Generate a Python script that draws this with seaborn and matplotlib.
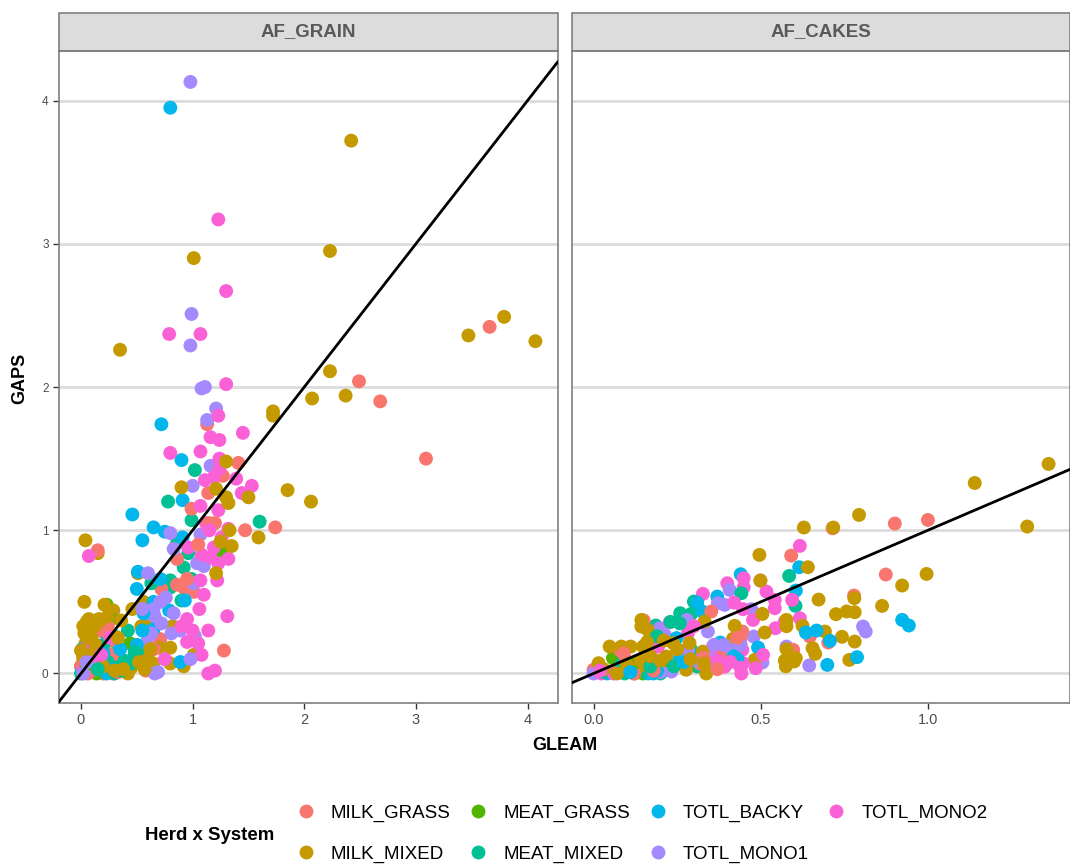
import matplotlib
matplotlib.use("Agg")
import matplotlib.pyplot as plt
from matplotlib.patches import Rectangle
import pandas as pd
import seaborn as sns

panels = ["AF_GRAIN", "AF_CAKES"]
herds = ["MILK_GRASS", "MILK_MIXED", "MEAT_GRASS", "MEAT_MIXED", "TOTL_BACKY", "TOTL_MONO1", "TOTL_MONO2"]
colors = ["#F8766D", "#C49A00", "#53B400", "#00C094", "#00B6EB", "#A58AFF", "#FB61D7"]

grain_milk_grass = [(3.66,2.42),(2.49,2.04),(2.68,1.90),(3.09,1.50),(1.13,1.74),(1.41,1.47),(1.27,1.38),(1.14,1.26),
    (0.99,1.15),(1.20,1.05),(1.47,1.0),(1.74,1.02),(0.86,0.80),(0.92,0.60),(1.01,0.57),(0.72,0.59),(1.28,0.16),
    (0.71,0.24),(0.58,0.02),(0.15,0.86),(0.21,0.35),(0.26,0.23),(0.02,0.10),(0.0,0.05),(0.2,0.0),(0.29,0.0),
    (0.05,0.12),(0.18,0.30),(0.10,0.02),(0.22,0.06),(0.03,0.03),(0.07,0.07),(0.03,0.17),(0.13,0.10),(0.16,0.17),
    (0.24,0.33),(0.2,0.17),(0.28,0.13),(0.06,0.0),(0.14,0.06),(0.33,0.01),(0.65,0.17),(0.86,0.62),(0.95,0.66),
    (1.05,0.9),(1.15,1.05)]
grain_milk_mixed = [(2.42,3.72),(2.23,2.95),(1.01,2.90),(3.47,2.36),(3.79,2.49),(4.07,2.32),(0.35,2.26),(2.23,2.11),
    (2.07,1.92),(2.37,1.94),(1.72,1.83),(1.72,1.80),(0.04,0.93),(0.15,0.84),(0.51,0.70),(0.03,0.50),(0.21,0.48),
    (0.29,0.44),(0.46,0.45),(0.56,0.50),(0.07,0.38),(0.16,0.38),(0.02,0.33),(0.08,0.30),(0.04,0.21),(0.10,0.23),
    (0.0,0.05),(0.21,0.07),(0.41,0.01),(0.42,0.0),(0.45,0.04),(0.54,0.33),(0.60,0.36),(0.82,0.33),(0.70,0.18),
    (0.80,0.18),(0.80,0.07),(0.92,0.05),(1.01,0.13),(0.65,0.07),(0.60,0.10),(0.90,1.30),(1.21,1.29),(1.30,1.23),
    (1.32,1.19),(1.50,1.23),(1.85,1.28),(2.06,1.20),(1.59,0.95),(1.35,0.89),(1.25,0.92),(1.33,1.0),(1.21,0.70),
    (1.30,1.48),(0.02,0.12),(0.06,0.17),(0.12,0.33),(0.24,0.40),(0.03,0.28),(0.05,0.36),(0.09,0.25),(0.13,0.20),
    (0.17,0.37),(0.11,0.14),(0.0,0.16),(0.17,0.11),(0.2,0.05),(0.3,0.02),(0.38,0.03),(0.33,0.25),(0.36,0.37),
    (0.52,0.08),(0.57,0.03),(0.62,0.17)]
grain_meat_grass = [(1.27,0.84),(0.23,0.48),(0.44,0.21),(0.27,0.38),(0.14,0.0),(0.19,0.02),(0.05,0.06)]
grain_meat_mixed = [(1.02,1.42),(0.78,1.20),(0.99,1.07),(1.60,1.06),(0.86,0.91),(0.96,0.84),(0.92,0.74),(0.80,0.65),
    (0.80,0.60),(0.99,0.66),(0.90,0.51),(0.63,0.63),(0.42,0.30),(0.20,0.29),(0.23,0.30),(0.30,0.14),(0.39,0.09),
    (0.53,0.14),(0.29,0.07),(0.0,0.0),(0.36,0.10),(0.26,0.05),(0.24,0.12),(0.33,0.04),(0.16,0.09),(0.1,0.1),
    (0.2,0.2),(0.24,0.08),(0.3,0.0),(0.36,0.02),(0.45,0.07),(0.48,0.15),(0.15,0.03)]
grain_totl_backy = [(0.80,3.95),(0.72,1.74),(0.90,1.49),(0.91,1.21),(0.46,1.11),(0.65,1.02),(0.75,0.99),(0.55,0.93),
    (0.91,0.95),(0.51,0.71),(0.50,0.59),(0.71,0.66),(0.65,0.50),(0.93,0.51),(0.79,0.44),(0.65,0.31),(0.60,0.27),
    (0.30,0.26),(0.01,0.17),(0.48,0.10),(0.89,0.08),(0.56,0.42),(0.02,0.01),(0.23,0.0),(0.13,0.03),(0.06,0.03),
    (0.2,0.14),(0.27,0.03),(0.35,0.17),(0.5,0.2),(0.55,0.3)]
grain_totl_mono1 = [(0.98,4.13),(0.99,2.51),(0.98,2.29),(1.08,1.99),(1.11,2.0),(1.21,1.85),(1.13,1.77),(1.16,1.45),
    (1.0,1.31),(1.07,0.97),(0.83,0.87),(0.80,0.98),(1.04,0.77),(1.10,0.75),(1.01,0.63),(0.60,0.70),(0.76,0.53),
    (0.71,0.50),(0.65,0.45),(0.59,0.42),(0.66,0.40),(0.83,0.42),(0.93,0.33),(0.89,0.30),(1.02,0.26),(0.81,0.28),
    (0.59,0.22),(0.66,0.0),(0.69,0.01),(0.98,0.10),(0.02,0.0),(0.05,0.08),(0.63,0.28),(0.55,0.45),(0.72,0.35)]
grain_totl_mono2 = [(1.23,3.17),(1.30,2.67),(0.79,2.37),(1.07,2.37),(1.30,2.02),(0.80,1.54),(1.07,1.55),(1.16,1.65),
    (1.24,1.63),(1.23,1.80),(1.45,1.68),(1.24,1.50),(1.24,1.43),(1.39,1.36),(1.53,1.31),(1.44,1.26),(1.11,1.35),
    (1.19,1.37),(1.07,1.17),(1.23,1.14),(1.32,1.01),(1.26,0.95),(0.96,0.88),(1.08,0.83),(1.19,0.88),(1.16,0.81),
    (1.23,0.77),(1.32,0.80),(1.07,0.65),(1.22,0.65),(1.10,0.55),(1.06,0.45),(1.31,0.40),(0.95,0.38),(1.14,0.30),
    (0.95,0.22),(1.05,0.21),(1.08,0.13),(0.75,0.10),(1.14,0.0),(1.20,0.02),(0.07,0.82),(0.05,0.15),(0.02,0.02),
    (0.26,0.25),(0.12,0.08),(0.18,0.13),(0.9,0.33),(1.0,0.3),(1.12,1.05),(1.15,1.0)]

cakes_milk_grass = [(1.0,1.072),(0.901,1.047),(0.715,1.014),(0.591,0.823),(0.874,0.691),(0.779,0.544),(0.597,0.165),
    (0.702,0.216),(0.647,0.258),(0.445,0.293),(0.439,0.24),(0.352,0.433),(0.15,0.37),(0.392,0.049),(0.347,0.072),
    (0.078,0.165),(0.0,0.026),(0.098,0.09),(0.318,0.07),(0.05,0.01),(0.09,0.14),(0.12,0.0),(0.18,0.02),(0.38,0.11),
    (0.33,0.11),(0.37,0.03),(0.43,0.25)]
cakes_milk_mixed = [(1.361,1.463),(1.14,1.33),(1.297,1.026),(0.996,0.695),(0.923,0.614),(0.863,0.472),(0.794,1.107),
    (0.717,1.019),(0.629,1.019),(0.496,0.828),(0.641,0.742),(0.673,0.516),(0.781,0.428),(0.757,0.433),(0.725,0.414),
    (0.780,0.526),(0.743,0.256),(0.781,0.223),(0.765,0.095),(0.692,0.293),(0.655,0.177),(0.663,0.137),(0.60,0.084),
    (0.572,0.09),(0.605,0.107),(0.575,0.05),(0.577,0.17),(0.625,0.333),(0.577,0.374),(0.577,0.33),(0.512,0.286),
    (0.505,0.416),(0.499,0.649),(0.422,0.333),(0.417,0.242),(0.482,0.095),(0.337,0.0),(0.332,0.363),(0.327,0.153),
    (0.277,0.026),(0.223,0.026),(0.218,0.119),(0.143,0.374),(0.143,0.328),(0.162,0.305),(0.048,0.188),(0.083,0.188),
    (0.111,0.188),(0.015,0.072),(0.123,0.0),(0.168,0.049),(0.133,0.049),(0.238,0.212),(0.287,0.212),(0.148,0.188),
    (0.03,0.03),(0.07,0.0),(0.1,0.06),(0.14,0.09),(0.17,0.12),(0.2,0.09),(0.25,0.17),(0.29,0.1),(0.16,0.22),
    (0.21,0.23),(0.33,0.07)]
cakes_meat_grass = [(0.068,0.119),(0.088,0.05),(0.058,0.107),(0.148,0.0),(0.208,0.026),(0.118,0.07)]
cakes_meat_mixed = [(0.585,0.681),(0.604,0.472),(0.3,0.502),(0.259,0.421),(0.292,0.416),(0.186,0.335),(0.168,0.235),
    (0.442,0.56),(0.31,0.049),(0.173,0.107),(0.078,0.049),(0.093,0.0),(0.068,0.026),(0.258,0.35),(0.292,0.165),
    (0.09,0.09),(0.11,0.03),(0.13,0.07),(0.15,0.02),(0.2,0.0),(0.03,0.01),(0.24,0.05),(0.17,0.05),(0.19,0.26),(0.23,0.36)]
cakes_totl_backy = [(0.44,0.693),(0.615,0.742),(0.605,0.579),(0.37,0.537),(0.31,0.495),(0.325,0.433),(0.923,0.374),
    (0.943,0.335),(0.788,0.114),(0.699,0.06),(0.707,0.228),(0.667,0.3),(0.635,0.286),(0.492,0.181),(0.379,0.216),
    (0.417,0.095),(0.257,0.1),(0.248,0.247),(0.163,0.0),(0.178,0.0),(0.04,0.0),(0.19,0.02),(0.27,0.08),(0.42,0.12),
    (0.43,0.1),(0.11,0.01)]
cakes_totl_mono1 = [(0.577,0.188),(0.806,0.328),(0.814,0.293),(0.645,0.056),(0.505,0.077),(0.479,0.258),(0.472,0.449),
    (0.407,0.584),(0.372,0.491),(0.392,0.479),(0.279,0.374),(0.198,0.316),(0.213,0.27),(0.342,0.293),(0.417,0.165),
    (0.382,0.142),(0.283,0.165),(0.277,0.095),(0.233,0.014),(0.0,0.0),(0.02,0.02),(0.2,0.01),(0.31,0.09),(0.35,0.1),
    (0.39,0.2),(0.44,0.2),(0.36,0.2)]
cakes_totl_mono2 = [(0.617,0.891),(0.327,0.556),(0.40,0.63),(0.449,0.665),(0.449,0.602),(0.499,0.649),(0.517,0.572),
    (0.542,0.514),(0.542,0.456),(0.594,0.514),(0.617,0.386),(0.572,0.363),(0.544,0.316),(0.477,0.374),(0.447,0.449),
    (0.42,0.495),(0.228,0.358),(0.282,0.281),(0.193,0.188),(0.267,0.153),(0.357,0.188),(0.445,0.165),(0.507,0.13),
    (0.447,0.072),(0.442,0.0),(0.485,0.037),(0.392,0.049),(0.023,0.0),(0.367,0.142),(0.06,0.0),(0.02,0.02),(0.3,0.33),
    (0.37,0.09),(0.41,0.08),(0.44,0.04)]

grain_series = [grain_milk_grass, grain_milk_mixed, grain_meat_grass, grain_meat_mixed,
                grain_totl_backy, grain_totl_mono1, grain_totl_mono2]
cakes_series = [cakes_milk_grass, cakes_milk_mixed, cakes_meat_grass, cakes_meat_mixed,
                cakes_totl_backy, cakes_totl_mono1, cakes_totl_mono2]

rows = []
for panel, series in zip(panels, [grain_series, cakes_series]):
    for herd, pts in zip(herds, series):
        for i, (x, y) in enumerate(pts):
            rows.append(dict(panel=panel, herd=herd, GLEAM=x, GAPS=y, order=i / len(pts)))
df = pd.DataFrame(rows).sort_values("order", kind="stable")

plt.rcParams["font.family"] = ["Liberation Sans", "DejaVu Sans"]
g = sns.relplot(data=df, x="GLEAM", y="GAPS", hue="herd", hue_order=herds, palette=colors,
                col="panel", col_order=panels, kind="scatter", s=100, linewidth=0, alpha=1,
                facet_kws=dict(sharex=False, sharey=True), height=8.64, aspect=0.6)
fig = g.figure
fig.set_size_inches(10.7, 8.64)
fig.set_dpi(100)
W, H = 1070, 864
fig.subplots_adjust(left=59/W, right=1070/W, top=1-51/H, bottom=1-703/H, wspace=14/498.5)

xlims = [(-0.197, 4.268), (-0.066, 1.425)]
xticks = [[0, 1, 2, 3, 4], [0.0, 0.5, 1.0]]
xticklabels = [["0", "1", "2", "3", "4"], ["0.0", "0.5", "1.0"]]
for ax, name, xl, xt, xtl in zip(g.axes.flat, panels, xlims, xticks, xticklabels):
    ax.set_xlim(*xl)
    ax.set_ylim(-0.206, 4.346)
    ax.set_xticks(xt)
    ax.set_xticklabels(xtl)
    ax.set_yticks([0, 1, 2, 3, 4])
    ax.set_axisbelow(True)
    ax.grid(axis="y", color="#DCDCDC", linewidth=2.0)
    ax.grid(axis="x", visible=False)
    ax.axline((0, 0), slope=1, color="black", linewidth=2, zorder=5)
    ax.set_title("")
    ax.set_xlabel("")
    ax.set_ylabel("")
    ax.tick_params(axis="x", labelsize=10.5, labelcolor="#4D4D4D", color="#333333", length=4, width=1)
    ax.tick_params(axis="y", labelsize=8.5, labelcolor="#4D4D4D", color="#333333", length=4, width=1,
                   labelleft=True)
    for s in ax.spines.values():
        s.set_visible(True)
        s.set_color("#7F7F7F")
        s.set_linewidth(1.2)
    ax.add_patch(Rectangle((0, 1), 1, 38/652, transform=ax.transAxes, clip_on=False,
                           facecolor="#DCDCDC", edgecolor="#7F7F7F", linewidth=1.2))
    ax.text(0.5, 1 + 19/652, name, transform=ax.transAxes, ha="center", va="center",
            fontsize=13.5, fontweight="bold", color="#595959")

g.axes.flat[1].tick_params(axis="y", left=False, labelleft=False)

fig.text(20/W, 1-378/H, "GAPS", rotation=90, ha="center", va="center", fontsize=13, fontweight="bold")
fig.text(565/W, 1-746/H, "GLEAM", ha="center", va="center", fontsize=13, fontweight="bold")
fig.text(210/W, 1-835/H, "Herd x System", ha="center", va="center", fontsize=13.4, fontweight="bold")

sns.move_legend(g, "center left", bbox_to_anchor=(270/W, 1-834/H), ncol=4, title=None, frameon=False,
                fontsize=13.5, columnspacing=0.46, handletextpad=0.35, labelspacing=1.27, markerscale=1.0)

fig.savefig("out.png", dpi=100)
